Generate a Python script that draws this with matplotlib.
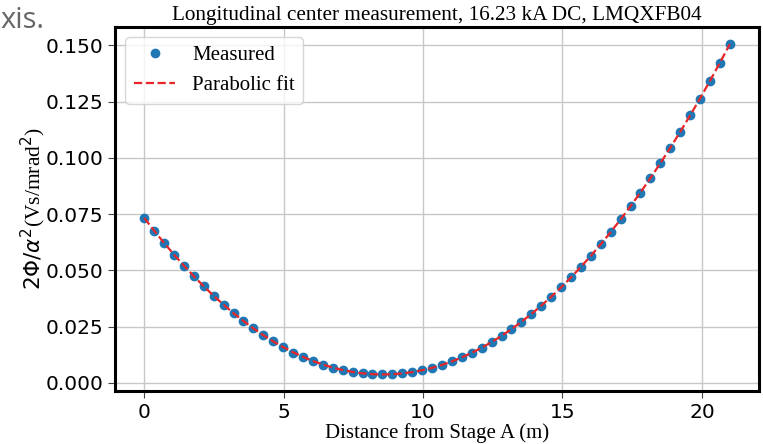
import numpy as np
import matplotlib
matplotlib.use('Agg')
import matplotlib.pyplot as plt

# Measured points (distance in m, 2*Phi/alpha^2 in Vs/mrad^2)
distance = [0.0, 0.356, 0.712, 1.068, 1.424, 1.780, 2.136, 2.492, 2.847, 3.203,
            3.559, 3.915, 4.271, 4.627, 4.983, 5.339, 5.695, 6.051, 6.407, 6.763,
            7.119, 7.475, 7.831, 8.186, 8.542, 8.898, 9.254, 9.610, 9.966, 10.322,
            10.678, 11.034, 11.390, 11.746, 12.102, 12.458, 12.814, 13.169, 13.525, 13.881,
            14.237, 14.593, 14.949, 15.305, 15.661, 16.017, 16.373, 16.729, 17.085, 17.441,
            17.797, 18.153, 18.508, 18.864, 19.220, 19.576, 19.932, 20.288, 20.644, 21.0]
measured = [0.0733, 0.0677, 0.0622, 0.0570, 0.0521, 0.0474, 0.0429, 0.0387, 0.0348, 0.0311,
            0.0276, 0.0243, 0.0212, 0.0184, 0.0158, 0.0135, 0.0114, 0.0096, 0.0080, 0.0067,
            0.0056, 0.0048, 0.0043, 0.0040, 0.0038, 0.0038, 0.0042, 0.0048, 0.0056, 0.0067,
            0.0080, 0.0096, 0.0114, 0.0135, 0.0157, 0.0182, 0.0210, 0.0239, 0.0271, 0.0305,
            0.0342, 0.0383, 0.0425, 0.0469, 0.0515, 0.0564, 0.0616, 0.0670, 0.0727, 0.0785,
            0.0846, 0.0910, 0.0976, 0.1045, 0.1116, 0.1189, 0.1264, 0.1342, 0.1422, 0.1505]

title = 'Longitudinal center measurement, 16.23 kA DC, LMQXFB04'
serif = ['Liberation Serif', 'DejaVu Serif']

#------------------------------------------------------------------------------
def main() -> None:
    x = np.array(distance)
    y = np.array(measured)
    # Parabolic fit to the measured points
    coeffs = np.polyfit(x, y, 2)
    fit = np.polyval(coeffs, x)

    fig = plt.figure(figsize=(7.63, 4.44), dpi=100)
    ax = fig.add_axes([0.1507, 0.1194, 0.8441, 0.8198])

    ax.plot(x, y, 'o', ms=6, color='#1f77b4', label='Measured', zorder=2)
    ax.plot(x, fit, '--', lw=1.6, color='#e8262a', label='Parabolic fit', zorder=3)

    ax.set_xlim(-1.05, 22.05)
    ax.set_ylim(-0.0036, 0.1582)
    ax.set_yticks([0.0, 0.025, 0.05, 0.075, 0.1, 0.125, 0.15])
    ax.set_xticks([0, 5, 10, 15, 20])
    ax.grid(True, color='#c8c8c8', lw=1.0)
    ax.set_axisbelow(True)
    for s in ax.spines.values():
        s.set_linewidth(2.2)
        s.set_color('black')
    ax.tick_params(labelsize=14.5, length=5, color='#444444')

    ax.set_title(title, fontsize=15.3, family=serif, pad=5)
    ax.set_xlabel('Distance from Stage A (m)', fontsize=15, family=serif, labelpad=1)
    ax.set_ylabel(r'$2\Phi/\alpha^2$(Vs/mrad$^2$)', fontsize=15.5, family=serif, labelpad=-2)

    ax.legend(loc='upper left', prop={'family': serif, 'size': 15},
              borderaxespad=0.5, framealpha=0.8)

    # Fragment of surrounding page text visible at the top left
    fig.text(0.0, 1 - 28 / 444, 'xis.', ha='left', va='baseline',
             fontsize=21, color='#666666', family='Open Sans')

    fig.savefig('out.png', dpi=100)

#------------------------------------------------------------------------------
if __name__ == '__main__':
    main()
